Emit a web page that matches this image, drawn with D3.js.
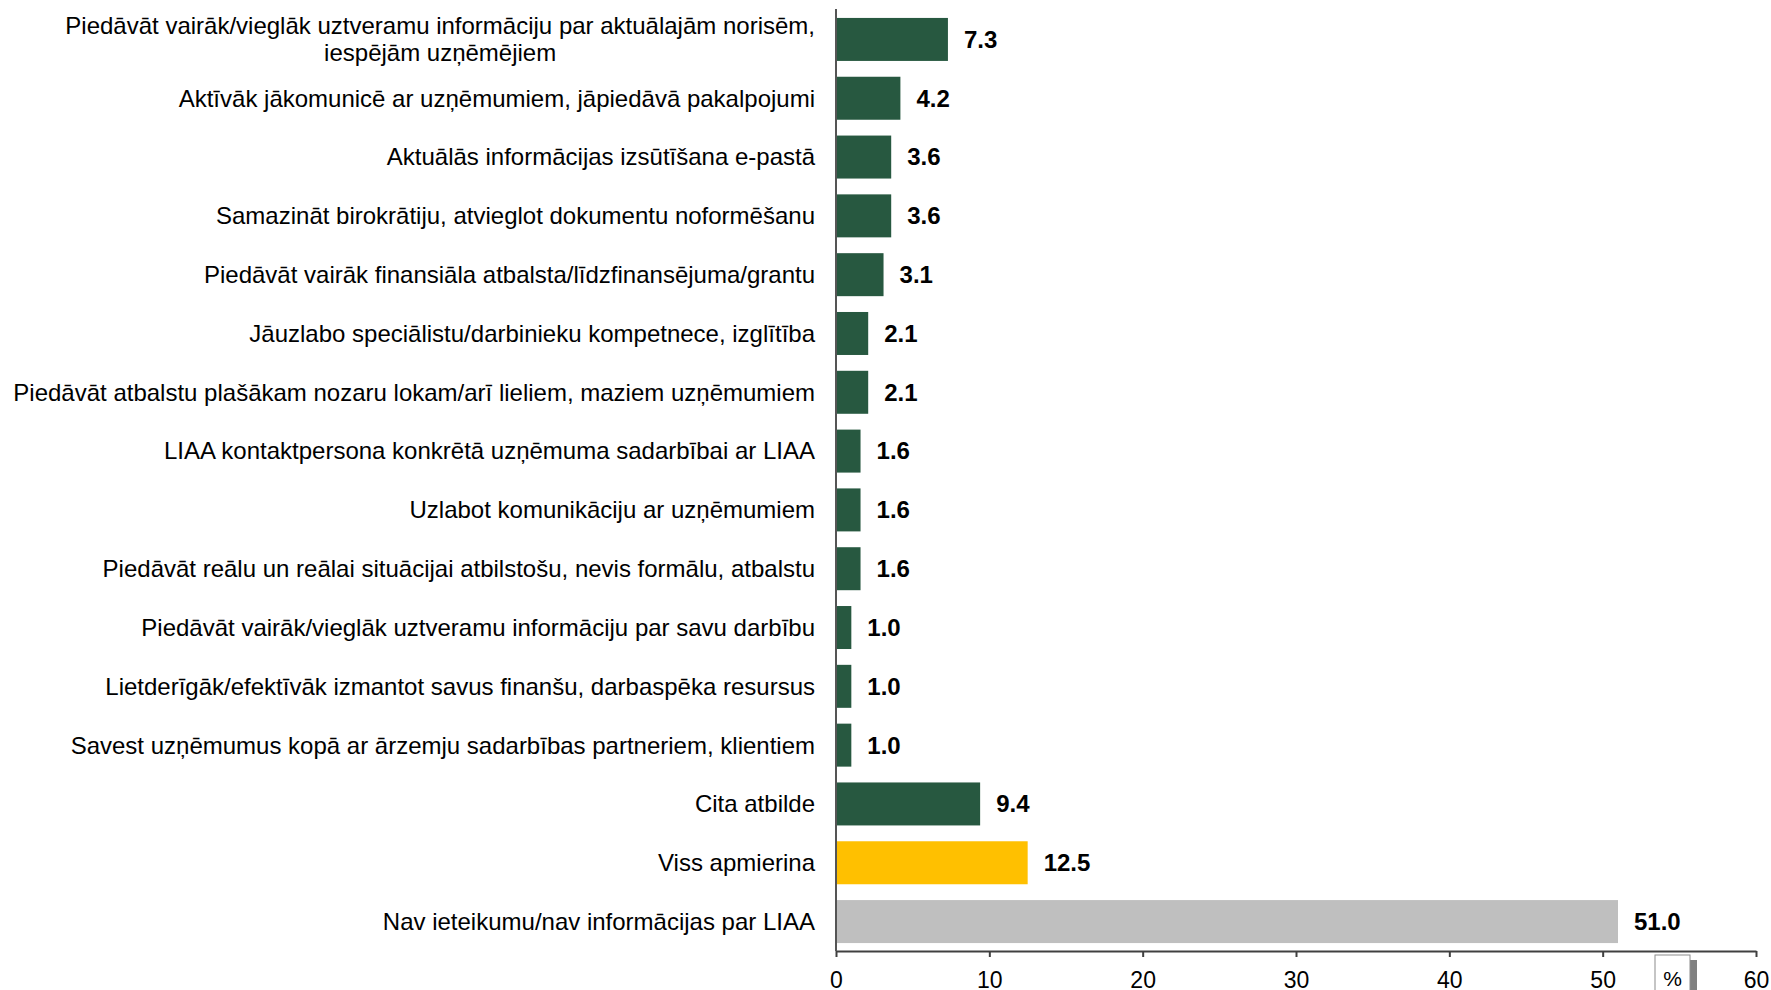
<!DOCTYPE html>
<html>
<head>
<meta charset="utf-8">
<script src="https://cdn.jsdelivr.net/npm/d3@7"></script>
<style>
  html, body { margin: 0; padding: 0; background: #fff; }
  svg { display: block; font-family: "Liberation Sans", Arial, sans-serif; }
</style>
</head>
<body>
<div id="chart"></div>
<script>
// categories, top to bottom ("\n" = wrapped line)
const categories = [
  "Piedāvāt vairāk/vieglāk uztveramu informāciju par aktuālajām norisēm,\niespējām uzņēmējiem",
  "Aktīvāk jākomunicē ar uzņēmumiem, jāpiedāvā pakalpojumi",
  "Aktuālās informācijas izsūtīšana e-pastā",
  "Samazināt birokrātiju, atvieglot dokumentu noformēšanu",
  "Piedāvāt vairāk finansiāla atbalsta/līdzfinansējuma/grantu",
  "Jāuzlabo speciālistu/darbinieku kompetnece, izglītība",
  "Piedāvāt atbalstu plašākam nozaru lokam/arī lieliem, maziem uzņēmumiem",
  "LIAA kontaktpersona konkrētā uzņēmuma sadarbībai ar LIAA",
  "Uzlabot komunikāciju ar uzņēmumiem",
  "Piedāvāt reālu un reālai situācijai atbilstošu, nevis formālu, atbalstu",
  "Piedāvāt vairāk/vieglāk uztveramu informāciju par savu darbību",
  "Lietderīgāk/efektīvāk izmantot savus finanšu, darbaspēka resursus",
  "Savest uzņēmumus kopā ar ārzemju sadarbības partneriem, klientiem",
  "Cita atbilde",
  "Viss apmierina",
  "Nav ieteikumu/nav informācijas par LIAA"
];
const values = [7.3, 4.2, 3.6, 3.6, 3.1, 2.1, 2.1, 1.6, 1.6, 1.6, 1.0, 1.0, 1.0, 9.4, 12.5, 51.0];
const xTicks = [0, 10, 20, 30, 40, 50, 60];
const unitLabel = "%";

const W = 1771, H = 990;
const x0 = 836, x1 = 1756;
const yTop = 10, yBot = 951;

const data = categories.map((c, i) => ({ cat: c, value: values[i] }));

const x = d3.scaleLinear().domain([0, 60]).range([x0, x1]);
const y = d3.scaleBand().domain(categories).range([yTop, yBot])
  .paddingInner(0.269).paddingOuter(0.135);

// yellow for "all satisfied", grey for "no suggestions", green for the rest
const color = d3.scaleOrdinal()
  .domain(categories)
  .range(categories.map((c, i) => i === categories.length - 1 ? "#bfbfbf"
    : i === categories.length - 2 ? "#ffc000" : "#275840"));

const svg = d3.select("#chart").append("svg")
  .attr("width", W).attr("height", H);

// bars
svg.append("g").selectAll("rect")
  .data(data)
  .join("rect")
  .attr("x", x(0))
  .attr("y", d => y(d.cat))
  .attr("width", d => x(d.value) - x(0))
  .attr("height", y.bandwidth())
  .attr("fill", d => color(d.cat));

// value labels
svg.append("g").selectAll("text")
  .data(data)
  .join("text")
  .attr("x", d => x(d.value) + 16)
  .attr("y", d => y(d.cat) + y.bandwidth() / 2)
  .attr("dy", "0.35em")
  .attr("font-size", 24)
  .attr("font-weight", "bold")
  .attr("fill", "#000")
  .text(d => d.value.toFixed(1));

// category labels (wrapped lines centred on each other, block right-aligned)
const labelX = 815;
const lineH = 27;
svg.append("g").selectAll("g")
  .data(data)
  .join("g")
  .each(function (d) {
    const g = d3.select(this);
    const lines = d.cat.split("\n");
    const cy = y(d.cat) + y.bandwidth() / 2;
    const texts = lines.map((ln, j) => g.append("text")
      .attr("y", cy + (j - (lines.length - 1) / 2) * lineH)
      .attr("dy", "0.35em")
      .attr("font-size", 24)
      .attr("fill", "#000")
      .text(ln));
    const maxW = d3.max(texts, t => t.node().getComputedTextLength());
    texts.forEach(t => t.attr("x", labelX - maxW / 2).attr("text-anchor", "middle"));
  });

// x axis
const xAxis = d3.axisBottom(x).tickValues(xTicks).tickSize(6).tickPadding(15).tickSizeOuter(0);
const gx = svg.append("g")
  .attr("transform", `translate(0,${yBot})`)
  .call(xAxis);
gx.select(".domain").attr("stroke", "#404040").attr("stroke-width", 2);
gx.selectAll(".tick line").attr("stroke", "#404040").attr("stroke-width", 2);
gx.selectAll(".tick text").attr("font-size", 23).attr("fill", "#000")
  .attr("font-family", "Liberation Sans, Arial, sans-serif");

// y axis line
svg.append("line")
  .attr("x1", x0).attr("x2", x0)
  .attr("y1", 9).attr("y2", yBot)
  .attr("stroke", "#555").attr("stroke-width", 2);

// unit box with shadow
const bx = 1655, by = 955, bw = 35, bh = 50;
svg.append("rect").attr("x", bx + 7).attr("y", by + 5).attr("width", bw).attr("height", bh)
  .attr("fill", "#808080");
svg.append("rect").attr("x", bx).attr("y", by).attr("width", bw).attr("height", bh)
  .attr("fill", "#fff").attr("stroke", "#8c8c8c").attr("stroke-width", 1);
svg.append("text")
  .attr("x", bx + bw / 2).attr("y", 979)
  .attr("dy", "0.35em")
  .attr("text-anchor", "middle")
  .attr("font-size", 21)
  .attr("fill", "#000")
  .text(unitLabel);
</script>
</body>
</html>
